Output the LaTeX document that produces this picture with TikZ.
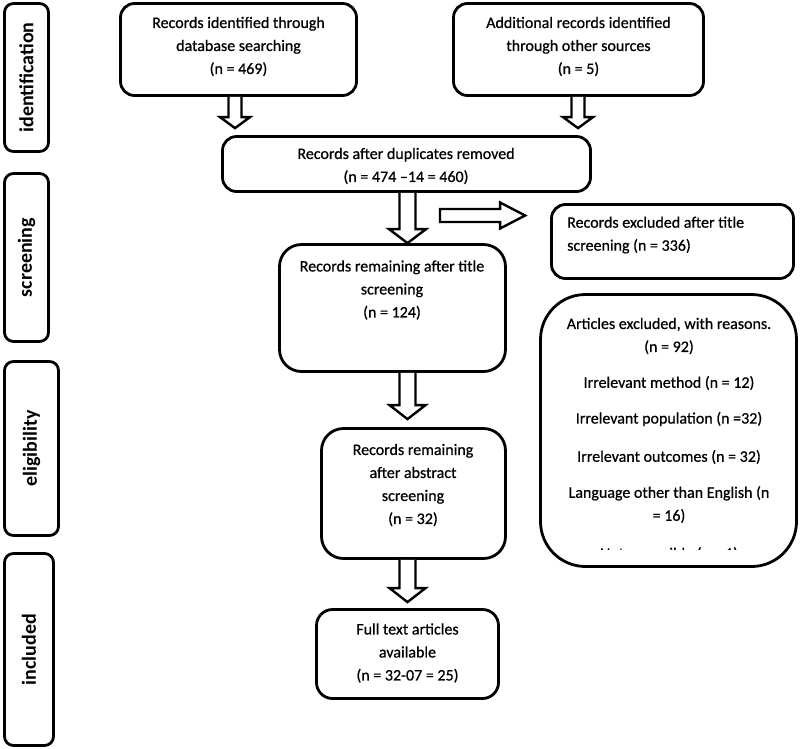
\documentclass[tikz,border=0pt]{standalone}
\usepackage{fontspec}
\setmainfont{Carlito}
\newfontfamily\heavyfont{Carlito}[FakeBold=0.7]
\usetikzlibrary{calc}
\newcommand\vblock[5]{%
  \draw[barrow] ($(#1)+(-#3,0)$) -- ($(#2)+(-#3,-#5)$) -- ($(#2)+(-#4,-#5)$) -- (#2)
    -- ($(#2)+(#4,-#5)$) -- ($(#2)+(#3,-#5)$) -- ($(#1)+(#3,0)$);
}
\begin{document}
\begin{tikzpicture}[x=1pt,y=-1pt,
  bx/.style={draw, line width=2.8pt, rounded corners=#1, inner sep=0pt},
  bx/.default=14pt,
  txt/.style={font=\heavyfont\fontsize{16}{23}\selectfont, align=center, inner sep=0pt},
  sidetxt/.style={font=\fontsize{20}{24}\selectfont\bfseries, rotate=90, inner sep=0pt},
  barrow/.style={draw, line width=2.4pt, fill=white, line join=miter}
]
\useasboundingbox (0,0) rectangle (800,748);

% side bars
\node[bx=9pt, minimum width=44pt, minimum height=148pt] (s1) at (26.5,77.5) {};
\node[bx=9pt, minimum width=44pt, minimum height=168pt] (s2) at (26.5,257.5) {};
\node[bx=9pt, minimum width=54pt, minimum height=174pt] (s3) at (31.5,448.5) {};
\node[bx=9pt, minimum width=49pt, minimum height=192pt] (s4) at (29,649.5) {};
\node[sidetxt] (s1t) at (s1.center) {identification};
\node[sidetxt] (s2t) at (s2.center) {screening};
\node[sidetxt] (s3t) at (s3.center) {eligibility};
\node[sidetxt] (s4t) at (s4.center) {included};

% boxes
\node[bx, minimum width=236pt, minimum height=92pt] (b1) at (238.5,49.5) {};
\node[bx, minimum width=250pt, minimum height=92pt] (b2) at (578.5,49.5) {};
\node[bx, minimum width=368pt, minimum height=55pt] (dup) at (406.5,164) {};
\node[bx, minimum width=242pt, minimum height=74pt] (excl) at (672.5,241.5) {};
\node[bx=22pt, minimum width=226pt, minimum height=127pt] (title) at (392.5,308) {};
\node[bx=45pt, minimum width=256pt, minimum height=272pt] (art) at (668.5,430.5) {};
\node[bx=22pt, minimum width=184pt, minimum height=130pt] (abs) at (413.5,493.5) {};
\node[bx=16pt, minimum width=182pt, minimum height=89pt] (full) at (407.5,654) {};

% texts
\node[txt] (b1t) at (238.5,46.5) {Records identified through\\database searching\\(n = 469)};
\node[txt] (b2t) at (578.5,46.5) {Additional records identified\\through other sources\\(n = 5)};
\node[txt] (dupt) at (406,166) {Records after duplicates removed\\(n = 474 –14 = 460)};
\node[txt, align=left, anchor=west] (exclt) at (567,235) {Records excluded after title\\screening (n = 336)};
\node[txt] (titlet) at (392,290) {Records remaining after title\\screening\\(n = 124)};
\node[txt] (abst) at (413,485) {Records remaining\\after abstract\\screening\\(n = 32)};
\node[txt] (fullt) at (407.5,653) {Full text articles\\available\\(n = 32-07 = 25)};
\node[txt] (art1) at (669,336) {Articles excluded, with reasons.\\(n = 92)};
\node[txt] (art2) at (669,383) {Irrelevant method (n = 12)};
\node[txt] (art3) at (669,419) {Irrelevant population (n =32)};
\node[txt] (art4) at (669,457) {Irrelevant outcomes (n = 32)};
\node[txt] (art5) at (669,504.5) {Language other than English (n\\{}= 16)};
\begin{scope}
\clip (560,530) rectangle (780,549.5);
\node[txt] (art6) at (669,554) {Not accessible (n = 1)};
\end{scope}

% block arrows
\coordinate (a1s) at ($(b1.south)+(-3.5,0)$);
\coordinate (a1e) at ($(a1s |- dup.north)+(0,-7)$);
\vblock{a1s}{a1e}{6.5}{15}{11}
\coordinate (a2s) at ($(b2.south)+(-0.5,0)$);
\coordinate (a2e) at ($(a2s |- dup.north)+(0,-7)$);
\vblock{a2s}{a2e}{6.5}{15}{11}
\coordinate (a3s) at ($(dup.south)+(1,0)$);
\coordinate (a3e) at ($(a3s |- title.north)+(0,0)$);
\vblock{a3s}{a3e}{8}{18.5}{14}
\coordinate (a4s) at ($(title.south)+(15,0)$);
\coordinate (a4e) at ($(a4s |- abs.north)+(0,-8)$);
\vblock{a4s}{a4e}{8}{18}{14}
\coordinate (a5s) at ($(abs.south)+(-6,0)$);
\coordinate (a5e) at ($(a5s |- full.north)+(0,-6)$);
\vblock{a5s}{a5e}{8}{18}{14}

% horizontal arrow
\coordinate (hs) at (440,215.5);
\coordinate (he) at ($(hs -| excl.west)+(-25,0)$);
\draw[barrow] ($(hs)+(0,-6.5)$) -- ($(he)+(-25,-6.5)$) -- ($(he)+(-25,-13)$) -- (he)
  -- ($(he)+(-25,13)$) -- ($(he)+(-25,6.5)$) -- ($(hs)+(0,6.5)$) -- cycle;
\end{tikzpicture}
\end{document}
